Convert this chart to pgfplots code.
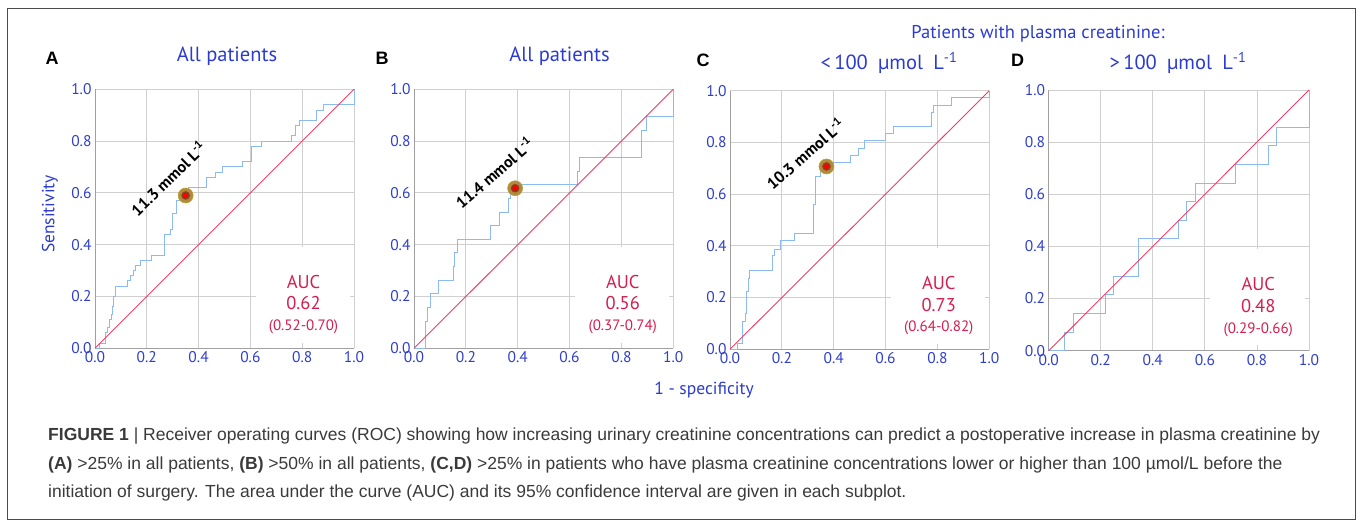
\documentclass[border=0pt]{standalone}
\usepackage{pgfplots}
\pgfplotsset{compat=1.18}
\usepackage{fontspec}
\setmainfont{PT Sans}
\newfontfamily\capfont{Liberation Sans}
\newfontfamily\letfont{Liberation Sans}

\definecolor{tickblue}{HTML}{2F3FCC}
\definecolor{titleblue}{HTML}{2B3BCF}
\definecolor{rocblue}{HTML}{8CBAF2}
\definecolor{diagred}{HTML}{E8406A}
\definecolor{aucred}{HTML}{D41E50}
\definecolor{gridgray}{HTML}{D0D0D0}
\definecolor{axisgray}{HTML}{A0A0A0}
\definecolor{ringbrown}{HTML}{B08A3E}
\definecolor{midbrown}{HTML}{8E3A1E}
\definecolor{capgray}{HTML}{3A3A3A}

\newcommand\ticks{\fontsize{15.5}{16}\selectfont}

\pgfplotsset{roc/.style={
  scale only axis, anchor=south west,
  xmin=0, xmax=1, ymin=0, ymax=1, enlargelimits=false,
  xtick={0,0.2,0.4,0.6,0.8,1}, ytick={0,0.2,0.4,0.6,0.8,1},
  grid=major, major grid style={draw=gridgray, line width=0.9pt},
  axis x line*=bottom, axis y line*=left,
  axis line style={draw=axisgray, line width=1pt, -},
  major tick length=0pt,
  tick label style={font=\ticks, text=tickblue},
  /pgf/number format/fixed, /pgf/number format/fixed zerofill,
  /pgf/number format/precision=1, /pgf/number format/assume math mode=true,
  clip=false,
}}

\newcommand\aucbox[2]{%
  \fill[white] (axis cs:0.62,0.02) rectangle (axis cs:0.985,0.39);
  \node[text=aucred, font=\fontsize{18.5}{18}\selectfont] at (axis cs:0.805,0.255) {AUC};
  \node[text=aucred, font=\fontsize{18.5}{18}\selectfont] at (axis cs:0.805,0.173) {#1};
  \node[text=aucred, font=\fontsize{15}{15}\selectfont] at (axis cs:0.805,0.082) {(#2)};
}
\newcommand\cutoff[2]{%
  \addplot[only marks, mark=*, mark size=7.5pt, mark options={fill=ringbrown, draw=ringbrown!80!yellow, line width=0.6pt}] coordinates {(#1,#2)};
  \addplot[only marks, mark=*, mark size=4pt, mark options={fill=midbrown, draw=midbrown}] coordinates {(#1,#2)};
  \addplot[only marks, mark=*, mark size=2.2pt, mark options={fill=red, draw=red}] coordinates {(#1,#2)};
}

\begin{document}
\begin{tikzpicture}
\useasboundingbox (0,0) rectangle (1357pt,521pt);
\draw[gray!60!black, line width=0.8pt] (7pt,2pt) rectangle (1355pt,513pt);

% A
\begin{axis}[roc, at={(95pt,172.7pt)}, width=259pt, height=259pt]
\addplot[color=rocblue, line width=1pt, mark=none] coordinates {
(0,0)(0.017,0)(0.017,0.017)(0.042,0.017)(0.042,0.06)(0.048,0.06)(0.048,0.08)(0.055,0.08)(0.055,0.11)(0.062,0.11)(0.062,0.13)(0.068,0.13)(0.068,0.16)(0.073,0.16)(0.073,0.2)(0.081,0.2)(0.081,0.24)(0.127,0.24)(0.127,0.26)(0.137,0.26)(0.137,0.28)(0.149,0.28)(0.149,0.3)(0.156,0.3)(0.156,0.32)(0.175,0.32)(0.175,0.34)(0.218,0.34)(0.218,0.36)(0.269,0.36)(0.269,0.44)(0.29,0.44)(0.29,0.46)(0.3,0.46)(0.3,0.52)(0.315,0.52)(0.315,0.57)(0.34,0.57)(0.34,0.59)(0.36,0.59)(0.36,0.62)(0.43,0.62)(0.43,0.66)(0.464,0.66)(0.464,0.68)(0.493,0.68)(0.493,0.7)(0.571,0.7)(0.571,0.72)(0.603,0.72)(0.603,0.78)(0.642,0.78)(0.642,0.8)(0.757,0.8)(0.757,0.82)(0.773,0.82)(0.773,0.86)(0.789,0.86)(0.789,0.88)(0.856,0.88)(0.856,0.92)(0.882,0.92)(0.882,0.94)(1,0.94)(1,1)};
\addplot[color=diagred, line width=0.9pt, mark=none] coordinates {(0,0) (0.5,0.5) (1,1)};
\cutoff{0.35}{0.59}
\aucbox{0.62}{0.52-0.70}
\node[rotate=44, font=\bfseries\fontsize{16}{16}\selectfont] at (axis cs:0.282,0.657) {11.3 mmol L\textsuperscript{-1}};
\end{axis}

% B
\begin{axis}[roc, at={(414pt,172.7pt)}, width=259.3pt, height=259pt]
\addplot[color=rocblue, line width=1pt, mark=none] coordinates {
(0,0)(0.045,0)(0.045,0.105)(0.053,0.105)(0.053,0.158)(0.062,0.158)(0.062,0.21)(0.096,0.21)(0.096,0.263)(0.152,0.263)(0.152,0.316)(0.158,0.316)(0.158,0.368)(0.168,0.368)(0.168,0.421)(0.296,0.421)(0.296,0.474)(0.328,0.474)(0.328,0.526)(0.364,0.526)(0.364,0.579)(0.372,0.579)(0.372,0.605)(0.39,0.605)(0.39,0.632)(0.632,0.632)(0.632,0.684)(0.64,0.684)(0.64,0.737)(0.878,0.737)(0.878,0.842)(0.895,0.842)(0.895,0.895)(1,0.895)(1,1)};
\addplot[color=diagred, line width=0.9pt, mark=none] coordinates {(0,0) (0.5,0.5) (1,1)};
\cutoff{0.39}{0.618}
\aucbox{0.56}{0.37-0.74}
\node[rotate=41, font=\bfseries\fontsize{16}{16}\selectfont] at (axis cs:0.309,0.679) {11.4 mmol L\textsuperscript{-1}};
\end{axis}

% C
\begin{axis}[roc, at={(730pt,171.7pt)}, width=259.3pt, height=258.6pt]
\addplot[color=rocblue, line width=1pt, mark=none] coordinates {
(0,0)(0.03,0)(0.03,0.023)(0.05,0.023)(0.05,0.107)(0.059,0.107)(0.059,0.139)(0.065,0.139)(0.065,0.223)(0.072,0.223)(0.072,0.275)(0.077,0.275)(0.077,0.305)(0.165,0.305)(0.165,0.361)(0.172,0.361)(0.172,0.387)(0.195,0.387)(0.195,0.42)(0.249,0.42)(0.249,0.446)(0.323,0.446)(0.323,0.559)(0.33,0.559)(0.33,0.668)(0.35,0.668)(0.35,0.694)(0.38,0.694)(0.38,0.722)(0.463,0.722)(0.463,0.75)(0.494,0.75)(0.494,0.778)(0.517,0.778)(0.517,0.806)(0.6,0.806)(0.6,0.833)(0.632,0.833)(0.632,0.861)(0.776,0.861)(0.776,0.917)(0.785,0.917)(0.785,0.944)(0.855,0.944)(0.855,0.972)(1,0.972)(1,1)};
\addplot[color=diagred, line width=0.9pt, mark=none] coordinates {(0,0) (0.5,0.5) (1,1)};
\cutoff{0.372}{0.707}
\aucbox{0.73}{0.64-0.82}
\node[rotate=41, font=\bfseries\fontsize{16}{16}\selectfont] at (axis cs:0.289,0.758) {10.3 mmol L\textsuperscript{-1}};
\end{axis}

% D
\begin{axis}[roc, at={(1048.7pt,170.3pt)}, width=260.3pt, height=260.7pt]
\addplot[color=rocblue, line width=1pt, mark=none] coordinates {
(0,0)(0.0625,0)(0.0625,0.0714)(0.09375,0.0714)(0.09375,0.1429)(0.21875,0.1429)(0.21875,0.2143)(0.25,0.2143)(0.25,0.2857)(0.34375,0.2857)(0.34375,0.4286)(0.5,0.4286)(0.5,0.5)(0.53125,0.5)(0.53125,0.5714)(0.5625,0.5714)(0.5625,0.6429)(0.71875,0.6429)(0.71875,0.7143)(0.84375,0.7143)(0.84375,0.7857)(0.875,0.7857)(0.875,0.8571)(1,0.8571)(1,1)};
\addplot[color=diagred, line width=0.9pt, mark=none] coordinates {(0,0) (0.5,0.5) (1,1)};
\aucbox{0.48}{0.29-0.66}
\end{axis}

% titles and labels
\begin{scope}[every node/.style={text=titleblue}]
\node[font=\fontsize{20.5}{21}\selectfont] at (227pt,465pt) {All patients};
\node[font=\fontsize{20.5}{21}\selectfont] at (559.5pt,465pt) {All patients};
\node[font=\fontsize{18.5}{19}\selectfont] at (1038pt,487pt) {Patients with plasma creatinine:};
\node[font=\fontsize{20.5}{21}\selectfont] at (889pt,458pt) {<\,100\enspace µmol\enspace L\textsuperscript{-1}};
\node[font=\fontsize{20.5}{21}\selectfont] at (1178pt,458pt) {>\,100\enspace µmol\enspace L\textsuperscript{-1}};
\node[font=\fontsize{17.5}{17}\selectfont, rotate=90] at (50pt,307pt) {Sensitivity};
\node[font=\fontsize{17.5}{17}\selectfont] at (704pt,131pt) {1 - specificity};
\end{scope}
\begin{scope}[every node/.style={font=\letfont\bfseries\fontsize{18}{18}\selectfont}]
\node at (52pt,463pt) {A};
\node at (382pt,463pt) {B};
\node at (703pt,461pt) {C};
\node at (1017.5pt,461pt) {D};
\end{scope}

% caption
\begin{scope}[every node/.style={anchor=west, inner sep=0pt, text=capgray, font=\capfont\fontsize{17.5}{18}\selectfont}]
\node at (48pt,85pt) {\textbf{FIGURE 1} | Receiver operating curves (ROC) showing how increasing urinary creatinine concentrations can predict a postoperative increase in plasma creatinine by};
\node at (48pt,56pt) {\textbf{(A)} >25\% in all patients, \textbf{(B)} >50\% in all patients, \textbf{(C,D)} >25\% in patients who have plasma creatinine concentrations lower or higher than 100 µmol/L before the};
\node at (48pt,28pt) {initiation of surgery. The area under the curve (AUC) and its 95\% confidence interval are given in each subplot.};
\end{scope}
\end{tikzpicture}
\end{document}
